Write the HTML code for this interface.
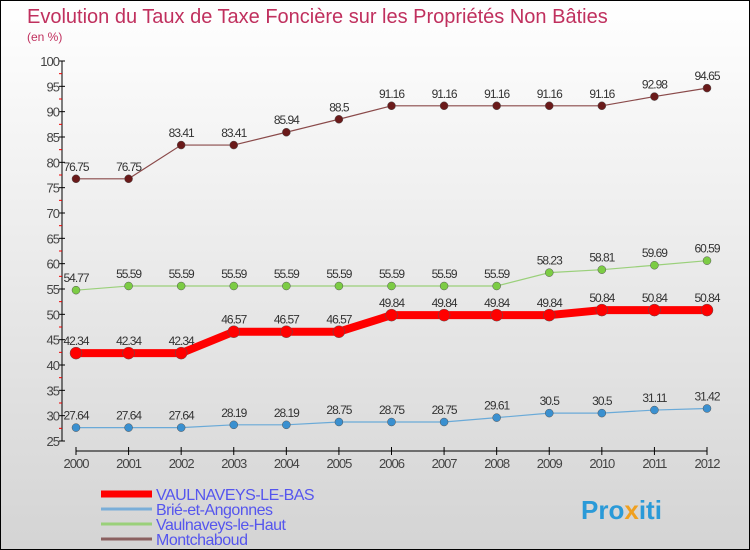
<!DOCTYPE html>
<html><head><meta charset="utf-8"><style>
body{margin:0}
#c{width:750px;height:550px;position:relative;box-sizing:border-box;border:1px solid #000;background:linear-gradient(#fff,#d4d4d4);font-family:"Liberation Sans",sans-serif;overflow:hidden}
</style></head><body>
<div id="c">
<svg width="750" height="550" id="s">
<text x="26" y="22" font-size="20" fill="#c0305e">Evolution du Taux de Taxe Foncière sur les Propriétés Non Bâties</text>
<text x="26" y="40" font-size="12" fill="#c0305e">(en %)</text>
<text x="580" y="518" font-size="26" font-weight="bold" fill="#2a9ad8">Pro<tspan fill="#f0a020">x</tspan>iti</text>
</svg>
</div>
<script>
const years=[2000,2001,2002,2003,2004,2005,2006,2007,2008,2009,2010,2011,2012];
const yTicks=[25,30,35,40,45,50,55,60,65,70,75,80,85,90,95,100];
const names=["VAULNAVEYS-LE-BAS","Brié-et-Angonnes","Vaulnaveys-le-Haut","Montchaboud"];
const sVaul=[42.34,42.34,42.34,46.57,46.57,46.57,49.84,49.84,49.84,49.84,50.84,50.84,50.84];
const sBrie=[27.64,27.64,27.64,28.19,28.19,28.75,28.75,28.75,29.61,30.5,30.5,31.11,31.42];
const sHaut=[54.77,55.59,55.59,55.59,55.59,55.59,55.59,55.59,55.59,58.23,58.81,59.69,60.59];
const sMont=[76.75,76.75,83.41,83.41,85.94,88.5,91.16,91.16,91.16,91.16,91.16,92.98,94.65];
const svg=document.getElementById('s');const NS='http://www.w3.org/2000/svg';
function X(i){return 75+i*(706-75)/12;}
function Y(v){return 440-(v-25)*(440-60)/75;}
function mk(t,a,p){const e=document.createElementNS(NS,t);for(const k in a)e.setAttribute(k,a[k]);(p||svg).appendChild(e);return e;}
let e=mk('line',{x1:61,y1:60,x2:61,y2:440,stroke:'#000'});


e=mk('line',{x1:75,y1:450,x2:706,y2:450,stroke:'#000'});


yTicks.forEach(v=>{
 mk('line',{x1:58,y1:Y(v),x2:64,y2:Y(v),stroke:'#000'});
 if(v<100)mk('line',{x1:58,y1:Y(v+2.5),x2:61,y2:Y(v+2.5),stroke:'#e00'});
 const t=mk('text',{x:58,y:Y(v)+5,'font-size':13,fill:'#444','text-anchor':'end','letter-spacing':'-1'});t.textContent=v;
 
 
});
years.forEach((y,i)=>{
 mk('line',{x1:X(i),y1:446,x2:X(i),y2:454,stroke:'#000'});
 const t=mk('text',{x:X(i),y:467,'font-size':13,fill:'#444','text-anchor':'middle','letter-spacing':'-1'});t.textContent=y;
 
 
});
function series(d,col,dot,w,r,name){
 const g=mk('g',{});
 
 
 mk('polyline',{points:d.map((v,i)=>X(i)+','+Y(v)).join(' '),fill:'none',stroke:col,'stroke-width':w},g);
 d.forEach((v,i)=>{
  const c=mk('circle',{cx:X(i),cy:Y(v),r:r,fill:dot,stroke:'#555','stroke-width':0.5},g);
  
  
  const t=mk('text',{x:X(i),y:Y(v)-8,'font-size':12,fill:'#333','text-anchor':'middle','letter-spacing':'-1'},g);t.textContent=v;
 });
}
series(sMont,'#8a4a4a','#6a1a1a',1.2,4,'series-montchaboud');
series(sHaut,'#9ad07a','#7ccc44',1.2,4,'series-vaulnaveys-le-haut');
series(sBrie,'#6aaad8','#3a90d0',1.2,4,'series-brie-et-angonnes');
series(sVaul,'#f00','#f00',8,6,'series-vaulnaveys-le-bas');
const lc=['#f00','#7aaed8','#9ad07a','#8a6060'],lw=[7,3,3,3];
names.forEach((n,i)=>{
 const y=493+i*15;
 const g=mk('g',{});
 
 
 mk('line',{x1:100,y1:y,x2:151,y2:y,stroke:lc[i],'stroke-width':lw[i]},g);
 const t=mk('text',{x:155,y:y+6,'font-size':16,fill:'#5555ee','letter-spacing':'-0.5'},g);t.textContent=n;
});
</script>
</body></html>
